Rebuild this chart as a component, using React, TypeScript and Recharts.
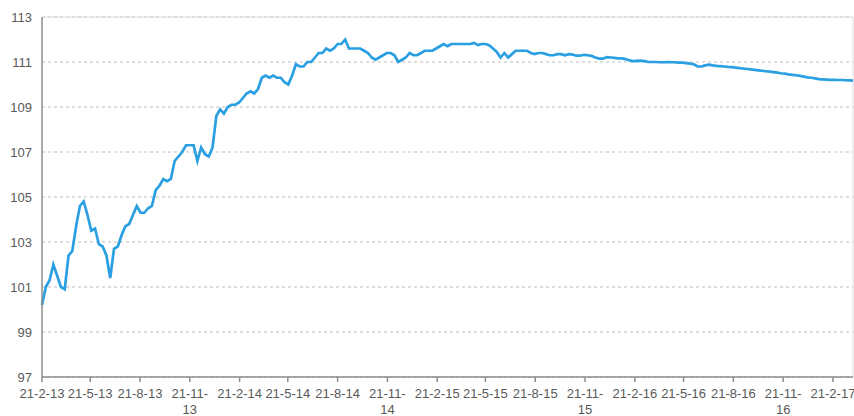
import { LineChart, Line, XAxis, YAxis, CartesianGrid, ReferenceLine } from "recharts";

// weekly readings, first one on 21-2-13
const values = [
  100.2, 101.0, 101.3, 102.0, 101.5, 101.0, 100.9, 102.4, 102.6, 103.7,
  104.6, 104.8, 104.2, 103.5, 103.6, 102.9, 102.8, 102.4, 101.4, 102.7,
  102.8, 103.3, 103.7, 103.8, 104.2, 104.6, 104.3, 104.3, 104.5, 104.6,
  105.3, 105.5, 105.8, 105.7, 105.8, 106.6, 106.8, 107.0, 107.3, 107.3,
  107.3, 106.6, 107.2, 106.9, 106.8, 107.2, 108.6, 108.9, 108.7, 109.0,
  109.1, 109.1, 109.2, 109.4, 109.6, 109.7, 109.6, 109.8, 110.3, 110.4,
  110.3, 110.4, 110.3, 110.3, 110.1, 110.0, 110.4, 110.9, 110.8, 110.8,
  111.0, 111.0, 111.2, 111.4, 111.4, 111.6, 111.5, 111.6, 111.8, 111.8,
  112.0, 111.6, 111.6, 111.6, 111.6, 111.5, 111.4, 111.2, 111.1, 111.2,
  111.3, 111.4, 111.4, 111.3, 111.0, 111.1, 111.2, 111.4, 111.3, 111.3,
  111.4, 111.5, 111.5, 111.5, 111.6, 111.7, 111.8, 111.7, 111.8, 111.8,
  111.8, 111.8, 111.8, 111.8, 111.85, 111.75, 111.8, 111.8, 111.75, 111.6,
  111.45, 111.2, 111.4, 111.2, 111.35, 111.5, 111.5, 111.5, 111.5, 111.4,
  111.35, 111.4, 111.4, 111.35, 111.3, 111.3, 111.35, 111.35, 111.3, 111.35,
  111.33, 111.28, 111.28, 111.32, 111.3, 111.27, 111.2, 111.15, 111.15, 111.22,
  111.2, 111.18, 111.16, 111.16, 111.13, 111.07, 111.04, 111.05, 111.06, 111.04,
  111.0, 111.0, 111.0, 110.99, 110.99, 111.0, 110.99, 110.99, 110.97, 110.97,
  110.95, 110.93, 110.9, 110.8, 110.8, 110.85, 110.88, 110.85, 110.83, 110.82,
  110.8, 110.78, 110.77, 110.75, 110.73, 110.71, 110.69, 110.67, 110.65, 110.63,
  110.61, 110.59, 110.57, 110.55, 110.53, 110.5, 110.48, 110.45, 110.43, 110.41,
  110.38, 110.35, 110.32, 110.3, 110.27, 110.24, 110.23, 110.22, 110.21, 110.21,
  110.2, 110.2, 110.19, 110.18, 110.17,
];

const tickLabels = [
  "21-2-13", "21-5-13", "21-8-13", "21-11-13",
  "21-2-14", "21-5-14", "21-8-14", "21-11-14",
  "21-2-15", "21-5-15", "21-8-15", "21-11-15",
  "21-2-16", "21-5-16", "21-8-16", "21-11-16",
  "21-2-17",
];

const yTicks = [97, 99, 101, 103, 105, 107, 109, 111, 113];

const DAY = 86400000;
const start = Date.UTC(2013, 1, 21);
const toDay = (label: string) => {
  const [d, m, y] = label.split("-").map(Number);
  return Math.round((Date.UTC(2000 + y, m - 1, d) - start) / DAY);
};
const tickDays = tickLabels.map(toDay);
const labelByDay: Record<number, string> = {};
tickLabels.forEach((l, i) => (labelByDay[tickDays[i]] = l));

const data = values.map((v, i) => ({ day: i * 7, v }));
const lastDay = (values.length - 1) * 7;

const font = "'Liberation Sans', Arial, sans-serif";

function DateTick(props: any) {
  const { x, y, payload } = props;
  const label = labelByDay[payload.value] ?? "";
  const cut = label.lastIndexOf("-") + 1;
  const parts = label.length > 7 ? [label.slice(0, cut), label.slice(cut)] : [label];
  return (
    <text x={x} y={y} textAnchor="middle" fill="#595959" fontSize={13} fontFamily={font}>
      {parts.map((p, i) => (
        <tspan key={i} x={x} dy={i === 0 ? 14 : 15.5}>
          {p}
        </tspan>
      ))}
    </text>
  );
}

export default function App() {
  return (
    <div style={{ position: "fixed", left: 0, top: 0, background: "#fff" }}>
      <LineChart width={854} height={416} data={data} margin={{ top: 17, right: 1, bottom: 0, left: 0 }}>
        <CartesianGrid vertical={false} stroke="#d3d3d3" strokeDasharray="3 3" strokeWidth={1.5} />
        <ReferenceLine y={113} stroke="#dcdcdc" strokeWidth={1} />
        <ReferenceLine x={lastDay} stroke="#dcdcdc" strokeWidth={1} />
        <XAxis
          dataKey="day"
          type="number"
          domain={[0, lastDay]}
          ticks={tickDays}
          interval={0}
          height={39}
          tick={<DateTick />}
          tickSize={5}
          axisLine={{ stroke: "#8c8c8c", strokeWidth: 1.5 }}
          tickLine={{ stroke: "#8c8c8c", strokeWidth: 1.5 }}
        />
        <YAxis
          domain={[97, 113]}
          ticks={yTicks}
          interval={0}
          width={42}
          tickLine={false}
          tickMargin={4}
          axisLine={{ stroke: "#8c8c8c", strokeWidth: 1.5 }}
          tick={{ fill: "#595959", fontSize: 13, fontFamily: font }}
        />
        <Line type="linear" dataKey="v" stroke="#2a9fe2" strokeWidth={2.7} dot={false} isAnimationActive={false} />
      </LineChart>
    </div>
  );
}
